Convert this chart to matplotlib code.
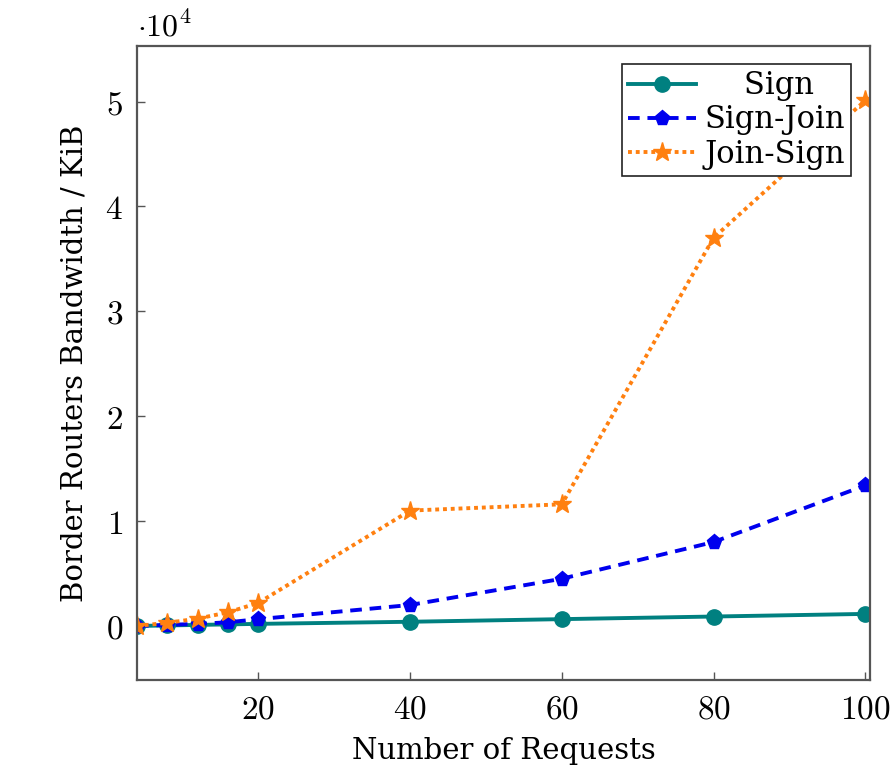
import matplotlib
matplotlib.use('Agg')
import matplotlib.pyplot as plt
from matplotlib.ticker import FuncFormatter

plt.rcParams['mathtext.fontset'] = 'cm'
plt.rcParams['font.family'] = 'DejaVu Serif'

# data
requests = [4, 8, 12, 16, 20, 40, 60, 80, 100]
sign = [0, 50, 100, 150, 200, 400, 650, 900, 1150]
sign_join = [0, 100, 200, 350, 650, 2000, 4500, 8000, 13400]
join_sign = [0, 300, 700, 1300, 2200, 11000, 11600, 37000, 50100]

x_ticks = [20, 40, 60, 80, 100]
y_ticks = [0, 10000, 20000, 30000, 40000, 50000]

fig = plt.figure(figsize=(8.93, 7.66), dpi=100)
ax = fig.add_axes([0.1534, 0.1123, 0.8206, 0.8277])

ax.plot(requests, sign, color='#008080', lw=2.8, marker='o', ms=11, label='    Sign')
ax.plot(requests, sign_join, color='#0000ee', lw=2.8, ls=(0, (3, 2)), marker='p', ms=11, label='Sign-Join')
ax.plot(requests, join_sign, color='#ff8010', lw=2.8, ls=(0, (1, 1)), marker='*', ms=14, label='Join-Sign')

ax.set_xlim(4, 100.6)
ax.set_ylim(-5150, 55300)
ax.set_xticks(x_ticks)
ax.set_yticks(y_ticks)
ax.xaxis.set_major_formatter(FuncFormatter(lambda v, p: r'$%d$' % v))
ax.yaxis.set_major_formatter(FuncFormatter(lambda v, p: r'$%d$' % round(v / 10000)))
ax.tick_params(direction='in', length=6, width=1, color='#555555', labelsize=24, pad=10)

for s in ax.spines.values():
    s.set_color('#555555')
    s.set_linewidth(1.6)

# offset multiplier above the y axis
ax.text(0.0, 1.005, r'$\cdot 10^4$', transform=ax.transAxes, fontsize=23, ha='left', va='bottom')

ax.set_xlabel('Number of Requests', fontsize=21, labelpad=8)
ax.set_ylabel('Border Routers Bandwidth / KiB', fontsize=21, labelpad=12)

leg = ax.legend(loc='upper right', fontsize=22, fancybox=False, edgecolor='#222222',
                framealpha=1, borderaxespad=0.6, handlelength=2.2, borderpad=0.2,
                labelspacing=0.1, handletextpad=0.3)
leg.get_frame().set_linewidth(1.2)

fig.savefig('out.png', dpi=100)
